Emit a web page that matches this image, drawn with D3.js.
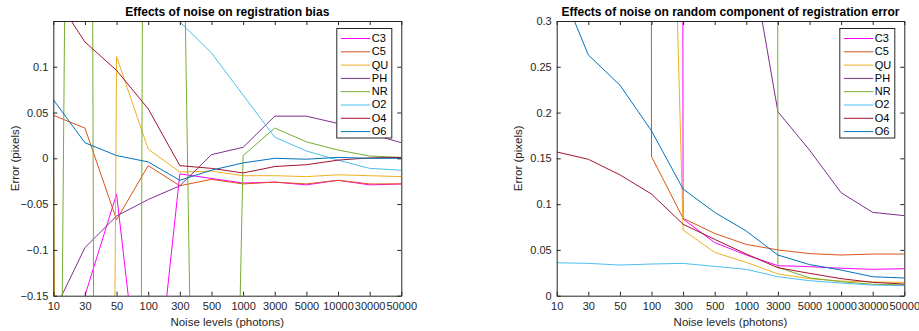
<!DOCTYPE html>
<html>
<head>
<meta charset="utf-8">
<title>Effects of noise on registration</title>
<script src="https://d3js.org/d3.v7.min.js"></script>
<style>
    html, body { margin: 0; padding: 0; background: #fff; }
    svg { display: block; font-family: "Liberation Sans", Arial, sans-serif; }
    .tick text { fill: #262626; font-size: 11px; }
    .title { font-size: 12px; font-weight: bold; fill: #000; text-anchor: middle; }
    .axlabel { font-size: 11.5px; fill: #262626; text-anchor: middle; }
    .legend text { font-size: 11px; fill: #000; dominant-baseline: middle; }
</style>
</head>
<body>
<svg id="chart" width="919" height="331"></svg>
<script>
const levels = ['10', '30', '50', '100', '300', '500', '1000', '3000', '5000', '10000', '30000', '50000'];
const methods = ['C3', 'C5', 'QU', 'PH', 'NR', 'O2', 'O4', 'O6'];
const colors = ['#ff00ff', '#d95319', '#edb120', '#7e2f8e', '#77ac30', '#4dbeee', '#a2142f', '#0072bd'];

// registration bias (left panel); values far outside the window are only seen as steep segments
const biasC3 = [-0.30, -0.15, -0.039, -0.34, -0.017, -0.022, -0.027, -0.026, -0.029, -0.024, -0.029, -0.028];
const biasC5 = [0.047, 0.033, -0.067, -0.008, -0.030, -0.023, -0.028, -0.026, -0.028, -0.024, -0.028, -0.028];
const biasQU = [0.046, -5.0, 0.111, 0.010, -0.015, -0.014, -0.019, -0.019, -0.020, -0.018, -0.019, -0.020];
const biasPH = [-0.169, -0.0975, -0.063, -0.045, -0.030, 0.004, 0.012, 0.046, 0.046, 0.038, 0.027, 0.017];
const biasNR = [-1.32, 2.8, -8.0, 2.0, 0.53, -1.66, 0.003, 0.033, 0.018, 0.009, 0.0025, 0.001];
const biasO2 = [3.5, 3.2, 3.0, 2.8, 0.149, 0.115, 0.069, 0.023, 0.008, -0.002, -0.011, -0.013];
const biasO4 = [0.18, 0.127, 0.096, 0.054, -0.008, -0.011, -0.016, -0.009, -0.007, -0.002, 0.0005, 0.001];
const biasO6 = [0.064, 0.017, 0.003, -0.004, -0.024, -0.013, -0.005, 0.000, -0.001, 0.001, 0.000, 0.000];

// random component of registration error (right panel)
const randC3 = [40, 38, 35, 30, 0.0837, 0.058, 0.0444, 0.0328, 0.0317, 0.030, 0.0288, 0.0295];
const randC5 = [60, 55, 45, 0.152, 0.0845, 0.068, 0.056, 0.050, 0.046, 0.0444, 0.0455, 0.0455];
const randQU = [8, 6, 3, 1.35, 0.0717, 0.0473, 0.0364, 0.0237, 0.0186, 0.016, 0.015, 0.0146];
const randPH = [9, 8, 7, 5, 3, 1.5, 0.40, 0.201, 0.159, 0.1125, 0.091, 0.0874];
const randNR = [90, 85, 80, 75, 70, 65, 60, 0.031, 0.0195, 0.0153, 0.0125, 0.0118];
const randO2 = [0.036, 0.0353, 0.0335, 0.0346, 0.0353, 0.032, 0.0288, 0.0207, 0.0164, 0.0138, 0.0116, 0.011];
const randO4 = [0.157, 0.149, 0.132, 0.111, 0.078, 0.0615, 0.0455, 0.0306, 0.0244, 0.0186, 0.0146, 0.0127];
const randO6 = [0.347, 0.263, 0.230, 0.180, 0.1165, 0.091, 0.0706, 0.0444, 0.034, 0.028, 0.0207, 0.0193];

const biasTicks = [-0.15, -0.1, -0.05, 0, 0.05, 0.1];
const randTicks = [0, 0.05, 0.1, 0.15, 0.2, 0.25, 0.3];

const svg = d3.select('#chart');
const plotTop = 21, plotBottom = 295.7;

function panel(opts) {
    const x = d3.scalePoint().domain(levels).range([opts.left, opts.right]);
    const y = d3.scaleLinear().domain(opts.domain).range([plotBottom, plotTop]);
    const g = svg.append('g');

    const clipId = 'clip-' + opts.id;
    svg.append('defs').append('clipPath').attr('id', clipId)
        .append('rect')
        .attr('x', opts.left).attr('y', plotTop)
        .attr('width', opts.right - opts.left).attr('height', plotBottom - plotTop);

    const line = d3.line().x((d, i) => x(levels[i])).y(d => y(d));
    g.append('g').attr('clip-path', `url(#${clipId})`)
        .selectAll('path')
        .data(opts.series)
        .join('path')
        .attr('fill', 'none')
        .attr('stroke', (d, i) => colors[i])
        .attr('stroke-width', 1)
        .attr('d', d => line(d));

    const fmt = d => d3.format('')(+d.toFixed(2));
    const style = sel => {
        sel.select('.domain').attr('stroke', '#262626');
        sel.selectAll('.tick line').attr('stroke', '#262626');
    };
    g.append('g').attr('transform', `translate(0,${plotBottom})`)
        .call(d3.axisBottom(x).tickSize(-4).tickSizeOuter(0).tickPadding(7))
        .call(style);
    g.append('g').attr('transform', `translate(0,${plotTop})`)
        .call(d3.axisTop(x).tickSize(-4).tickSizeOuter(0).tickFormat(''))
        .call(style);
    g.append('g').attr('transform', `translate(${opts.left},0)`)
        .call(d3.axisLeft(y).tickValues(opts.ticks).tickFormat(fmt).tickSize(-4).tickSizeOuter(0).tickPadding(5))
        .call(style);
    g.append('g').attr('transform', `translate(${opts.right},0)`)
        .call(d3.axisRight(y).tickValues(opts.ticks).tickFormat('').tickSize(-4).tickSizeOuter(0))
        .call(style);
    g.selectAll('g').attr('font-family', null).attr('font-size', null);

    const cx = (opts.left + opts.right) / 2;
    g.append('text').attr('class', 'title').attr('x', cx).attr('y', 16).text(opts.title);
    g.append('text').attr('class', 'axlabel').attr('x', cx).attr('y', 326).text('Noise levels (photons)');
    g.append('text').attr('class', 'axlabel')
        .attr('transform', `translate(${opts.left - 34.5},${(plotTop + plotBottom) / 2}) rotate(-90)`)
        .text('Error (pixels)');

    // legend
    const lx = opts.right - 64.5, ly = 28.5, rowH = 13.3;
    const leg = g.append('g').attr('class', 'legend');
    leg.append('rect')
        .attr('x', lx).attr('y', ly)
        .attr('width', 55).attr('height', 109.5)
        .attr('fill', '#fff').attr('stroke', '#262626');
    const rows = leg.selectAll('g.row').data(methods).join('g').attr('class', 'row')
        .attr('transform', (d, i) => `translate(0,${ly + 10 + i * rowH})`);
    rows.append('line')
        .attr('x1', lx + 4).attr('x2', lx + 33.5)
        .attr('stroke', (d, i) => colors[i]).attr('stroke-width', 1);
    rows.append('text').attr('x', lx + 35).attr('y', 0.5).text(d => d);
}

panel({
    id: 'bias',
    left: 53.3, right: 401.3,
    domain: [-0.15, 0.1499],
    ticks: biasTicks,
    title: 'Effects of noise on registration bias',
    series: [biasC3, biasC5, biasQU, biasPH, biasNR, biasO2, biasO4, biasO6]
});
panel({
    id: 'rand',
    left: 556.7, right: 904.3,
    domain: [0, 0.3],
    ticks: randTicks,
    title: 'Effects of noise on random component of registration error',
    series: [randC3, randC5, randQU, randPH, randNR, randO2, randO4, randO6]
});
</script>
</body>
</html>
